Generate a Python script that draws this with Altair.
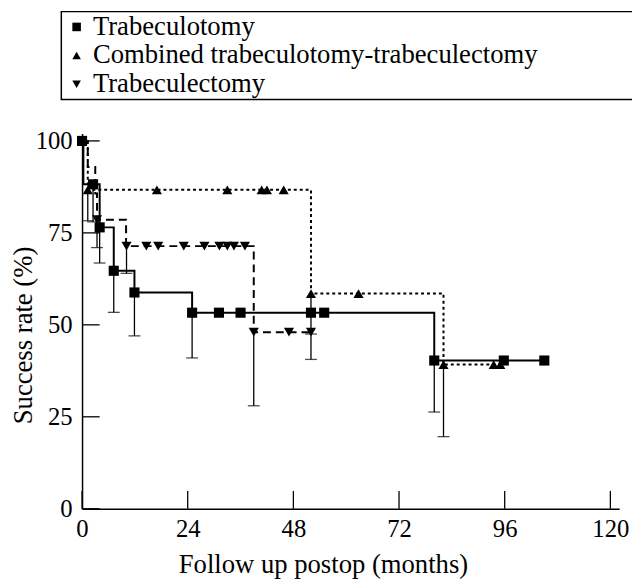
import altair as alt
import pandas as pd

SERIES = ["Trabeculotomy", "Combined trabeculotomy-trabeculectomy", "Trabeculectomy"]

# --- Kaplan-Meier step curves (month, success rate %) ---
to_step_month = [0, 0.3, 4.0, 7.2, 11.9, 25.0, 80.0, 105.0]
to_step_rate = [100, 88.2, 76.5, 64.7, 58.8, 53.3, 40.3, 40.3]

ct_step_month = [0, 1.3, 52.0, 82.1, 95.0]
ct_step_rate = [100, 86.7, 58.5, 39.2, 39.2]

te_step_month = [0, 1.3, 3.0, 3.4, 10.0, 39.0, 52.0]
te_step_rate = [100, 92.9, 85.7, 78.6, 71.4, 48.0, 48.0]

# --- plotted markers ---
to_mark_month = [0, 2.5, 4.0, 7.2, 11.9, 25.0, 31.1, 36.0, 52.0, 55.0, 80.0, 95.8, 105.0]
to_mark_rate = [100, 88.2, 76.5, 64.7, 58.8, 53.3, 53.3, 53.3, 53.3, 53.3, 40.3, 40.3, 40.3]

ct_mark_month = [1.3, 17.0, 33.0, 40.8, 42.0, 45.8, 52.0, 62.8, 82.1, 93.5, 95.0]
ct_mark_rate = [86.7, 86.7, 86.7, 86.7, 86.7, 86.7, 58.5, 58.5, 39.2, 39.2, 39.2]

te_mark_month = [3.4, 10.1, 14.6, 17.3, 23.1, 27.8, 31.2, 33.0, 34.5, 37.0, 39.0, 47.0, 52.0]
te_mark_rate = [78.6, 71.4, 71.4, 71.4, 71.4, 71.4, 71.4, 71.4, 71.4, 71.4, 48.0, 48.0, 48.0]

# --- error bars (month, estimate, lower limit) ---
to_err_month = [2.5, 4.0, 7.2, 11.9, 25.0, 80.0]
to_err_rate = [88.2, 76.5, 64.7, 58.8, 53.3, 40.3]
to_err_low = [78.0, 66.8, 53.4, 47.0, 41.0, 26.3]

ct_err_month = [1.3, 52.0, 82.1]
ct_err_rate = [86.7, 58.5, 39.2]
ct_err_low = [78.3, 47.5, 19.6]

te_err_month = [3.4, 10.1, 39.0, 52.0]
te_err_rate = [78.6, 71.4, 48.0, 48.0]
te_err_low = [71.0, 64.0, 28.0, 40.6]

x_ticks = [0, 24, 48, 72, 96, 120]
y_ticks = [0, 25, 50, 75, 100]

FONT = "Liberation Serif, Times New Roman, serif"

steps = {
    SERIES[0]: (to_step_month, to_step_rate),
    SERIES[1]: (ct_step_month, ct_step_rate),
    SERIES[2]: (te_step_month, te_step_rate),
}
marks = pd.concat([
    pd.DataFrame({"month": to_mark_month, "rate": to_mark_rate, "series": SERIES[0]}),
    pd.DataFrame({"month": ct_mark_month, "rate": ct_mark_rate, "series": SERIES[1]}),
    pd.DataFrame({"month": te_mark_month, "rate": te_mark_rate, "series": SERIES[2]}),
])
errs = pd.concat([
    pd.DataFrame({"month": to_err_month, "rate": to_err_rate, "low": to_err_low}),
    pd.DataFrame({"month": ct_err_month, "rate": ct_err_rate, "low": ct_err_low}),
    pd.DataFrame({"month": te_err_month, "rate": te_err_rate, "low": te_err_low}),
])

x_scale = alt.Scale(domain=[0, 122], nice=False, zero=False)
y_scale = alt.Scale(domain=[0, 102], nice=False)

x_axis = alt.Axis(values=x_ticks, title="Follow up postop (months)", ticks=False, tickSize=0,
                  grid=False, labelPadding=8, titlePadding=11, domainWidth=1.5,
                  labelFlush=False, titleX=244, titleAlign="center")
y_axis = alt.Axis(values=y_ticks, title="Success rate (%)", ticks=False, tickSize=0,
                  grid=False, labelPadding=10, domainWidth=1.5, labelFlush=False,
                  titleX=-72, titleY=204, titleBaseline="top", titleAlign="center",
                  titleAngle=270)

X = alt.X("month:Q", scale=x_scale, axis=x_axis)
Y = alt.Y("rate:Q", scale=y_scale, axis=y_axis)

dashes = {SERIES[0]: [1, 0], SERIES[1]: [3, 3], SERIES[2]: [8, 5]}
line_layers = []
for name in SERIES:
    t, s = steps[name]
    df = pd.DataFrame({"month": t, "rate": s})
    line_layers.append(
        alt.Chart(df).mark_line(interpolate="step-after", color="black", strokeWidth=2,
                                strokeDash=dashes[name]).encode(x=X, y=Y)
    )

err_rules = alt.Chart(errs).mark_rule(color="black", strokeWidth=1.3).encode(
    x="month:Q", y="rate:Q", y2="low:Q")
err_caps = alt.Chart(errs).mark_tick(color="black", orient="horizontal", size=12,
                                     thickness=1.3).encode(x="month:Q", y="low:Q")

points = alt.Chart(marks).mark_point(filled=True, color="black", opacity=1, size=105).encode(
    x="month:Q", y="rate:Q",
    shape=alt.Shape("series:N",
                    scale=alt.Scale(domain=SERIES,
                                    range=["square", "triangle-up", "triangle-down"]),
                    legend=alt.Legend(title=" ", titleOrient="right", titlePadding=94,
                                      orient="none", legendX=-21, legendY=-123.5,
                                      labelFont=FONT, labelFontSize=27, labelLimit=800,
                                      titleFont=FONT)),
)

xt = pd.DataFrame({"month": x_ticks, "rate": [0] * len(x_ticks), "top": [4.85] * len(x_ticks)})
yt = pd.DataFrame({"month": [0] * len(y_ticks), "right": [4.0] * len(y_ticks), "rate": y_ticks})
x_tick_rules = alt.Chart(xt).mark_rule(color="black", strokeWidth=1.3).encode(
    x="month:Q", y="rate:Q", y2="top:Q")
y_tick_rules = alt.Chart(yt).mark_rule(color="black", strokeWidth=1.3).encode(
    x="month:Q", x2="right:Q", y="rate:Q")

chart = alt.layer(
    *line_layers, err_rules, err_caps, x_tick_rules, y_tick_rules, points
).properties(
    width=544, height=380,
    autosize=alt.AutoSizeParams(type="none"),
    padding={"left": 75, "top": 123.5, "right": 13, "bottom": 70},
).configure_view(stroke=None).configure_axis(
    labelFont=FONT, titleFont=FONT, labelFontSize=25, titleFontSize=27,
    labelColor="black", titleColor="black", domainColor="black", titleFontWeight="normal",
).configure_legend(
    labelFont=FONT, labelFontSize=27, labelColor="black", titleFont=FONT, titleFontSize=12,
    strokeColor="black", strokeWidth=1.5, fillColor="white", padding=2,
    rowPadding=1, symbolSize=75, symbolFillColor="black", symbolStrokeColor="black",
    labelOffset=3, symbolOffset=0, labelLimit=800,
)

chart.save("out.html", embed_options={"renderer": "svg", "actions": False})
